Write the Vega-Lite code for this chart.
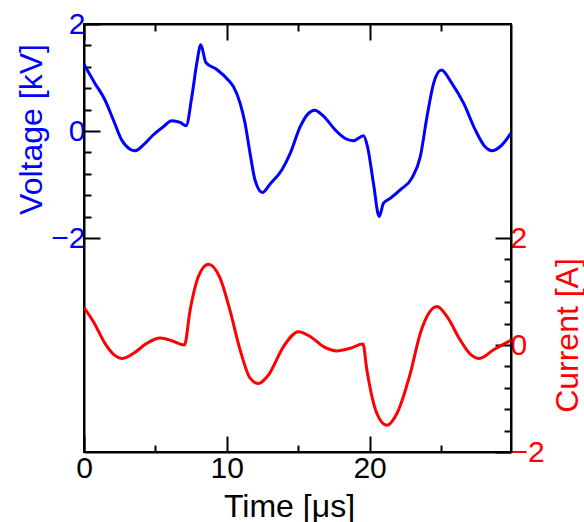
{
  "$schema": "https://vega.github.io/schema/vega-lite/v6.json",
  "autosize": {"type": "none"},
  "padding": {"left": 84, "top": 24, "right": 73, "bottom": 70},
  "width": 427,
  "height": 428,
  "config": {
    "font": "Liberation Sans",
    "view": {"stroke": "black", "strokeWidth": 2},
    "axis": {"grid": false, "labelFlush": false, "domainColor": "black", "domainWidth": 2, "tickColor": "black", "tickWidth": 2, "labelFont": "Liberation Sans", "titleFont": "Liberation Sans", "titleFontWeight": "normal", "labelFontSize": 30, "titleFontSize": 32}
  },
  "datasets": {
    "voltage": [
      {"t": 0, "v": 1.25}, {"t": 0.77, "v": 0.89}, {"t": 1.47, "v": 0.58}, {"t": 2.05, "v": 0.21},
      {"t": 2.64, "v": -0.17}, {"t": 3.22, "v": -0.34}, {"t": 3.57, "v": -0.37}, {"t": 4.16, "v": -0.26},
      {"t": 4.86, "v": -0.07}, {"t": 5.56, "v": 0.08}, {"t": 6.15, "v": 0.19}, {"t": 6.73, "v": 0.16},
      {"t": 7.15, "v": 0.1}, {"t": 7.55, "v": 0.64}, {"t": 7.9, "v": 1.27}, {"t": 8.18, "v": 1.61},
      {"t": 8.53, "v": 1.28}, {"t": 9.3, "v": 1.15}, {"t": 10.11, "v": 0.95}, {"t": 10.46, "v": 0.83},
      {"t": 10.93, "v": 0.52}, {"t": 11.28, "v": 0.14}, {"t": 11.63, "v": -0.42}, {"t": 11.98, "v": -0.92},
      {"t": 12.49, "v": -1.15}, {"t": 13.03, "v": -0.99}, {"t": 13.85, "v": -0.73}, {"t": 14.44, "v": -0.42},
      {"t": 15.14, "v": 0.08}, {"t": 15.72, "v": 0.33}, {"t": 16.14, "v": 0.39}, {"t": 16.77, "v": 0.28},
      {"t": 17.59, "v": 0.02}, {"t": 18.29, "v": -0.14}, {"t": 18.87, "v": -0.18}, {"t": 19.57, "v": -0.09},
      {"t": 19.85, "v": -0.29}, {"t": 20.27, "v": -0.98}, {"t": 20.67, "v": -1.6}, {"t": 20.97, "v": -1.35},
      {"t": 21.44, "v": -1.26}, {"t": 22.14, "v": -1.1}, {"t": 22.96, "v": -0.88}, {"t": 23.55, "v": -0.48},
      {"t": 24.02, "v": 0.27}, {"t": 24.48, "v": 0.89}, {"t": 25.02, "v": 1.14}, {"t": 25.76, "v": 0.89},
      {"t": 26.58, "v": 0.52}, {"t": 27.4, "v": 0.02}, {"t": 28.1, "v": -0.3}, {"t": 28.57, "v": -0.37},
      {"t": 29.15, "v": -0.29}, {"t": 29.9, "v": -0.04}
    ],
    "current": [
      {"t": 0, "i": 0.7}, {"t": 0.65, "i": 0.44}, {"t": 1.47, "i": 0.03}, {"t": 2.05, "i": -0.17},
      {"t": 2.71, "i": -0.25}, {"t": 3.45, "i": -0.16}, {"t": 4.39, "i": 0.03}, {"t": 5.33, "i": 0.13},
      {"t": 6.15, "i": 0.08}, {"t": 7.03, "i": 0.0}, {"t": 7.43, "i": 0.65}, {"t": 8.01, "i": 1.28},
      {"t": 8.71, "i": 1.51}, {"t": 9.53, "i": 1.25}, {"t": 10.2, "i": 0.67}, {"t": 10.93, "i": -0.09},
      {"t": 11.63, "i": -0.62}, {"t": 12.21, "i": -0.72}, {"t": 12.92, "i": -0.56}, {"t": 13.97, "i": -0.03},
      {"t": 15.02, "i": 0.25}, {"t": 15.84, "i": 0.16}, {"t": 16.77, "i": -0.03}, {"t": 17.71, "i": -0.11},
      {"t": 18.64, "i": -0.06}, {"t": 19.53, "i": 0.02}, {"t": 19.81, "i": -0.47}, {"t": 20.51, "i": -1.28},
      {"t": 21.21, "i": -1.5}, {"t": 21.91, "i": -1.28}, {"t": 22.85, "i": -0.53}, {"t": 23.55, "i": 0.22},
      {"t": 24.13, "i": 0.59}, {"t": 24.72, "i": 0.72}, {"t": 25.42, "i": 0.53}, {"t": 26.35, "i": 0.09},
      {"t": 27.05, "i": -0.17}, {"t": 27.7, "i": -0.25}, {"t": 28.68, "i": -0.09}, {"t": 29.9, "i": 0.09}
    ]
  },
  "layer": [
    {
      "data": {"name": "voltage"},
      "mark": {"type": "line", "color": "#0000ff", "strokeWidth": 3, "interpolate": "monotone", "clip": true},
      "encoding": {
        "x": {
          "field": "t", "type": "quantitative",
          "scale": {"domain": [0, 29.9], "nice": false, "zero": false},
          "axis": {
            "orient": "bottom", "title": "Time [μs]", "values": [0, 5, 10, 15, 20, 25],
            "labelExpr": "datum.value % 10 == 0 ? datum.label : ''",
            "tickSize": {"condition": {"test": "datum.value % 10 == 0", "value": -16}, "value": -7},
            "labelPadding": 17, "labelColor": "black", "titleColor": "black",
            "titleX": 205, "titleY": 64, "titleAlign": "center", "titleBaseline": "alphabetic"
          }
        },
        "y": {
          "field": "v", "type": "quantitative",
          "scale": {"domain": [-6, 2], "nice": false, "zero": false},
          "axis": {
            "orient": "left", "title": "Voltage [kV]",
            "values": [-2, -1.6, -1.2, -0.8, -0.4, 0, 0.4, 0.8, 1.2, 1.6, 2],
            "labelExpr": "datum.value == 0 || abs(datum.value) == 2 ? datum.label : ''",
            "tickSize": {"condition": {"test": "datum.value == 0 || abs(datum.value) == 2", "value": -16}, "value": -7},
            "labelPadding": 15, "labelColor": "#0000ff", "titleColor": "#0000ff",
            "titleAngle": -90, "titleX": -43, "titleY": 105, "titleAlign": "center", "titleBaseline": "alphabetic"
          }
        }
      }
    },
    {
      "data": {"name": "current"},
      "mark": {"type": "line", "color": "#ff0000", "strokeWidth": 3, "interpolate": "monotone", "clip": true},
      "encoding": {
        "x": {
          "field": "t", "type": "quantitative",
          "axis": {
            "orient": "top", "title": null, "labels": false, "values": [0, 5, 10, 15, 20, 25],
            "tickSize": {"condition": {"test": "datum.value % 10 == 0", "value": -16}, "value": -7}
          }
        },
        "y": {
          "field": "i", "type": "quantitative",
          "scale": {"domain": [-2, 6], "nice": false, "zero": false},
          "axis": {
            "orient": "right", "title": "Current [A]",
            "values": [-2, -1.6, -1.2, -0.8, -0.4, 0, 0.4, 0.8, 1.2, 1.6, 2],
            "labelExpr": "datum.value == 0 || abs(datum.value) == 2 ? datum.label : ''",
            "tickSize": {"condition": {"test": "datum.value == 0 || abs(datum.value) == 2", "value": -16}, "value": -7},
            "labelPadding": 15, "labelColor": "#ff0000", "titleColor": "#ff0000",
            "titleAngle": -90, "titleX": 66, "titleY": 311, "titleAlign": "center", "titleBaseline": "alphabetic"
          }
        }
      }
    }
  ],
  "resolve": {"scale": {"y": "independent"}, "axis": {"x": "independent", "y": "independent"}}
}
